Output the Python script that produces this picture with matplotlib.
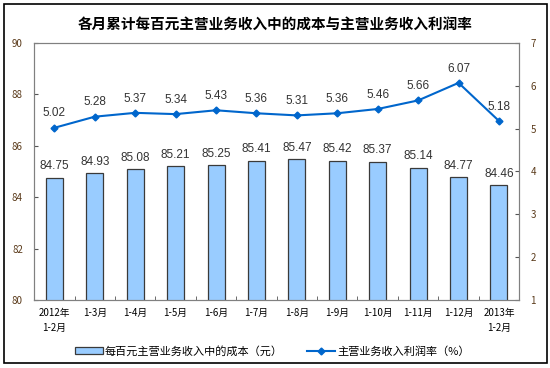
import numpy as np
import matplotlib.pyplot as plt
from matplotlib.patches import Rectangle
from matplotlib.lines import Line2D

plt.rcParams['font.family'] = ['Noto Sans CJK SC', 'DejaVu Sans']

labels = ['2012年\n1-2月', '1-3月', '1-4月', '1-5月', '1-6月', '1-7月',
          '1-8月', '1-9月', '1-10月', '1-11月', '1-12月', '2013年\n1-2月']
cost = [84.75, 84.93, 85.08, 85.21, 85.25, 85.41, 85.47, 85.42, 85.37, 85.14, 84.77, 84.46]
rate = [5.02, 5.28, 5.37, 5.34, 5.43, 5.36, 5.31, 5.36, 5.46, 5.66, 6.07, 5.18]

fig = plt.figure(figsize=(5.5, 3.68), dpi=100)
ax = fig.add_axes([0.062, 0.185, 0.882, 0.698])
ax2 = ax.twinx()

x = np.arange(len(labels))
bar_color = '#99CCFF'
line_color = '#0066CC'

ax.bar(x, cost, width=0.42, color=bar_color, edgecolor='#3a3a3a', linewidth=0.9, zorder=2)
for xi, v in zip(x, cost):
    ax.annotate('%.2f' % v, (xi, v), xytext=(0, 4), textcoords='offset points',
                ha='center', va='bottom', fontsize=8.5, family='Liberation Sans', color='#333333')

ax2.plot(x, rate, color=line_color, marker='D', markersize=3.5, linewidth=1.5, zorder=3)
for xi, v in zip(x, rate):
    ax2.annotate('%.2f' % v, (xi, v), xytext=(0, 6), textcoords='offset points',
                 ha='center', va='bottom', fontsize=8.5, family='Liberation Sans', color='#333333')

ax.set_xlim(-0.5, len(labels) - 0.5)
ax.set_ylim(80, 90)
ax.set_yticks(np.arange(80, 91, 2))
ax2.set_ylim(1, 7)
ax2.set_yticks(np.arange(1, 8, 1))

ax.set_xticks(x)
ax.set_xticklabels(labels, fontsize=7, linespacing=1.6)
ax.set_xticks(np.arange(-0.5, len(labels), 1), minor=True)
ax.tick_params(axis='x', which='major', length=0, pad=6)
ax.tick_params(axis='x', which='minor', direction='in', length=3, color='#555555')
ax.tick_params(axis='y', direction='in', length=3, labelsize=7, colors='#555555',
               labelcolor='#5a3a1a', pad=8)
ax2.tick_params(axis='y', direction='in', length=3, labelsize=7, colors='#555555',
                labelcolor='#5a3a1a', pad=8)
for a in (ax, ax2):
    for s in a.spines.values():
        s.set_color('#808080')
        s.set_linewidth(0.8)

fig.text(0.5, 0.932, '各月累计每百元主营业务收入中的成本与主营业务收入利润率',
         ha='center', va='center', fontsize=10.5, fontweight='bold')

handles = [Rectangle((0, 0), 1, 1, facecolor=bar_color, edgecolor='#3a3a3a', linewidth=0.9),
           Line2D([], [], color=line_color, marker='D', markersize=3.5, linewidth=1.5)]
fig.legend(handles, ['每百元主营业务收入中的成本（元）', '主营业务收入利润率（%）'],
           loc='center left', bbox_to_anchor=(0.118, 0.046), ncol=2, frameon=False,
           fontsize=8, handlelength=2.5, handleheight=0.6, columnspacing=2.2, handletextpad=0.2)

fig.patches.append(Rectangle((0.008, 0.014), 0.986, 0.975, transform=fig.transFigure,
                             fill=False, edgecolor='black', linewidth=1.2))

fig.savefig('out.png', dpi=100)
